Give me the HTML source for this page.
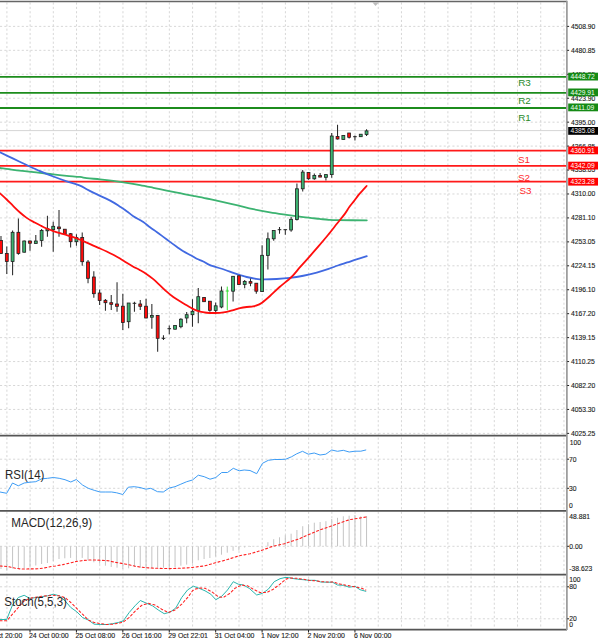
<!DOCTYPE html>
<html><head><meta charset="utf-8"><title>Chart</title>
<style>
html,body{margin:0;padding:0;background:#fff;width:600px;height:644px;overflow:hidden;}
svg{display:block;}
</style></head><body>
<svg width="600" height="644" viewBox="0 0 600 644">
<rect width="600" height="644" fill="#fff"/>
<path d="M6.90 2.5V434.8M30.11 2.5V434.8M53.32 2.5V434.8M76.53 2.5V434.8M99.74 2.5V434.8M122.95 2.5V434.8M146.16 2.5V434.8M169.37 2.5V434.8M192.58 2.5V434.8M215.79 2.5V434.8M239.00 2.5V434.8M262.21 2.5V434.8M285.42 2.5V434.8M308.63 2.5V434.8M331.84 2.5V434.8M355.05 2.5V434.8M378.26 2.5V434.8M401.47 2.5V434.8M424.68 2.5V434.8M447.89 2.5V434.8M471.10 2.5V434.8M494.31 2.5V434.8M517.52 2.5V434.8M540.73 2.5V434.8M563.94 2.5V434.8M6.90 437.6V509.6M30.11 437.6V509.6M53.32 437.6V509.6M76.53 437.6V509.6M99.74 437.6V509.6M122.95 437.6V509.6M146.16 437.6V509.6M169.37 437.6V509.6M192.58 437.6V509.6M215.79 437.6V509.6M239.00 437.6V509.6M262.21 437.6V509.6M285.42 437.6V509.6M308.63 437.6V509.6M331.84 437.6V509.6M355.05 437.6V509.6M378.26 437.6V509.6M401.47 437.6V509.6M424.68 437.6V509.6M447.89 437.6V509.6M471.10 437.6V509.6M494.31 437.6V509.6M517.52 437.6V509.6M540.73 437.6V509.6M563.94 437.6V509.6M6.90 511.8V573.6M30.11 511.8V573.6M53.32 511.8V573.6M76.53 511.8V573.6M99.74 511.8V573.6M122.95 511.8V573.6M146.16 511.8V573.6M169.37 511.8V573.6M192.58 511.8V573.6M215.79 511.8V573.6M239.00 511.8V573.6M262.21 511.8V573.6M285.42 511.8V573.6M308.63 511.8V573.6M331.84 511.8V573.6M355.05 511.8V573.6M378.26 511.8V573.6M401.47 511.8V573.6M424.68 511.8V573.6M447.89 511.8V573.6M471.10 511.8V573.6M494.31 511.8V573.6M517.52 511.8V573.6M540.73 511.8V573.6M563.94 511.8V573.6M6.90 576.6V628.3M30.11 576.6V628.3M53.32 576.6V628.3M76.53 576.6V628.3M99.74 576.6V628.3M122.95 576.6V628.3M146.16 576.6V628.3M169.37 576.6V628.3M192.58 576.6V628.3M215.79 576.6V628.3M239.00 576.6V628.3M262.21 576.6V628.3M285.42 576.6V628.3M308.63 576.6V628.3M331.84 576.6V628.3M355.05 576.6V628.3M378.26 576.6V628.3M401.47 576.6V628.3M424.68 576.6V628.3M447.89 576.6V628.3M471.10 576.6V628.3M494.31 576.6V628.3M517.52 576.6V628.3M540.73 576.6V628.3M563.94 576.6V628.3M0 26.40H567.0M0 50.34H567.0M0 74.28H567.0M0 98.22H567.0M0 122.16H567.0M0 146.10H567.0M0 170.04H567.0M0 193.98H567.0M0 217.92H567.0M0 241.86H567.0M0 265.80H567.0M0 289.74H567.0M0 313.68H567.0M0 337.62H567.0M0 361.56H567.0M0 385.50H567.0M0 409.44H567.0M0 433.38H567.0M0 459.20H567.0M0 488.30H567.0M0 546.30H567.0M0 586.80H567.0M0 618.80H567.0" stroke="#d2d2d2" stroke-width="0.9" stroke-dasharray="2.1,2.25" fill="none"/>
<path d="M0 130.6H567.0" stroke="#d6d6d6" stroke-width="1"/>
<path d="M0 76.8H567.0" stroke="#1c8c1c" stroke-width="1.8"/>
<path d="M0 92.8H567.0" stroke="#1c8c1c" stroke-width="1.8"/>
<path d="M0 108.0H567.0" stroke="#1c8c1c" stroke-width="1.8"/>
<path d="M0 150.6H567.0" stroke="#ff1a1a" stroke-width="1.8"/>
<path d="M0 165.9H567.0" stroke="#ff1a1a" stroke-width="1.8"/>
<path d="M0 181.7H567.0" stroke="#ff1a1a" stroke-width="1.8"/>
<path d="M0.00 168.00C2.22 168.30 8.85 169.27 13.30 169.82C17.75 170.38 22.25 170.82 26.70 171.32C31.15 171.83 35.57 172.33 40.00 172.85C44.43 173.37 48.85 173.96 53.30 174.45C57.75 174.94 62.25 175.38 66.70 175.80C71.15 176.22 76.67 176.59 80.00 176.97C83.33 177.36 83.37 177.71 86.70 178.10C90.03 178.49 95.57 178.87 100.00 179.32C104.43 179.78 108.85 180.28 113.30 180.85C117.75 181.43 122.25 182.07 126.70 182.77C131.15 183.48 135.57 184.27 140.00 185.10C144.43 185.93 148.85 186.86 153.30 187.77C157.75 188.69 162.25 189.69 166.70 190.60C171.15 191.51 175.57 192.36 180.00 193.22C184.43 194.09 188.85 194.92 193.30 195.80C197.75 196.68 202.25 197.56 206.70 198.50C211.15 199.44 215.00 200.31 220.00 201.43C225.00 202.54 231.15 203.88 236.70 205.18C242.25 206.48 247.75 208.02 253.30 209.22C258.85 210.43 264.43 211.48 270.00 212.43C275.57 213.37 281.15 214.10 286.70 214.88C292.25 215.65 297.87 216.41 303.30 217.07C308.73 217.74 315.08 218.41 319.30 218.88C323.52 219.34 325.50 219.63 328.60 219.85C331.70 220.07 331.53 220.12 337.90 220.20C344.27 220.27 361.98 220.28 366.80 220.30" stroke="#3cb371" stroke-width="1.8" fill="none" stroke-linecap="round" />
<path d="M0.00 152.30C2.22 153.36 8.85 156.56 13.30 158.68C17.75 160.79 22.25 162.93 26.70 165.00C31.15 167.07 35.57 169.16 40.00 171.07C44.43 172.99 48.85 174.79 53.30 176.50C57.75 178.21 62.25 179.80 66.70 181.32C71.15 182.85 76.67 184.32 80.00 185.65C83.33 186.98 84.48 188.15 86.70 189.32C88.92 190.50 91.08 191.59 93.30 192.68C95.52 193.76 97.77 194.82 100.00 195.85C102.23 196.88 104.48 197.77 106.70 198.85C108.92 199.93 111.08 201.05 113.30 202.35C115.52 203.65 117.77 205.21 120.00 206.68C122.23 208.14 124.48 209.57 126.70 211.15C128.92 212.73 130.53 214.34 133.30 216.15C136.07 217.96 140.52 220.14 143.30 222.00C146.08 223.86 147.77 225.66 150.00 227.32C152.23 228.99 154.48 230.41 156.70 232.00C158.92 233.59 161.08 235.21 163.30 236.85C165.52 238.49 167.77 240.21 170.00 241.85C172.23 243.49 174.48 245.10 176.70 246.68C178.92 248.25 180.87 249.85 183.30 251.32C185.73 252.80 189.07 254.28 191.30 255.50C193.53 256.73 194.70 257.68 196.70 258.68C198.70 259.68 201.08 260.42 203.30 261.50C205.52 262.58 206.55 263.84 210.00 265.18C213.45 266.51 220.12 268.21 224.00 269.50C227.88 270.79 230.63 271.98 233.30 272.90C235.97 273.82 237.77 274.32 240.00 275.00C242.23 275.68 244.03 276.36 246.70 277.00C249.37 277.64 253.23 278.43 256.00 278.83C258.77 279.23 259.85 279.37 263.30 279.40C266.75 279.43 272.25 279.27 276.70 279.02C281.15 278.78 285.57 278.50 290.00 277.95C294.43 277.40 298.85 276.65 303.30 275.75C307.75 274.85 312.48 273.67 316.70 272.52C320.92 271.38 325.07 270.02 328.60 268.85C332.13 267.67 334.80 266.54 337.90 265.48C341.00 264.41 344.10 263.49 347.20 262.48C350.30 261.46 353.23 260.45 356.50 259.40C359.77 258.35 365.08 256.73 366.80 256.20" stroke="#4169e1" stroke-width="1.8" fill="none" stroke-linecap="round" />
<path d="M0.99 236V253.4M6.79 246.6V274M12.59 230.4V275.2M18.39 218.4V254.7M24.20 240.5V252.5M30.00 240.4V250.7M35.80 235V243.5M41.61 229V246.7M47.41 215.8V236.7M53.21 221.7V251.7M59.01 210V236.7M64.81 229V235M70.62 233V247.5M76.42 234.2V245.8M82.22 232.5V265.8M88.03 260V283.3M93.83 271.3V297.8M99.63 289.5V305M105.43 299V310.8M111.23 295V310M117.04 282.2V311.7M122.84 293.7V330M128.64 303V328.3M134.44 301.7V311.7M140.25 300V310M146.05 298.7V318.3M151.85 304V328.7M157.66 315.3V351.7M163.46 335.3V340M169.26 325.5V334.2M175.06 325V329.5M180.87 318.3V328.3M186.67 312V323.3M192.47 299.2V326.7M198.27 288V323.3M204.08 297V301.7M209.88 301.2V311.7M215.68 302.5V314.2M221.48 286.6V308.3M233.09 276V301.5M238.89 275.5V284.7M244.69 280V288.2M250.50 278.5V286.2M256.30 282.9V293.7M262.10 245.2V292M267.90 232.5V269.4M273.71 230.5V240.8M279.51 227V233.7M285.31 229.7V234.7M291.11 217V231.7M296.92 183.5V220.6M302.72 170.1V191.6M308.52 172.4V179.8M314.32 173.4V179.8M320.12 173V177.1M325.93 174.6V180.4M331.73 133V177.7M337.53 124.7V139.5M343.34 135V139.5M349.14 133V138.6M354.94 135.5V140.4M360.74 134V137M366.55 129.3V136" stroke="#2a2a2a" stroke-width="1.05" fill="none"/>
<path d="M132.64 303.3H136.25M161.66 338.3H165.26M167.46 328.7H171.06M277.71 229.7H281.31M283.51 229.7H287.11M353.14 136.7H356.74" stroke="#222" stroke-width="1" fill="none"/>
<path d="M227.28 286.6V310.2M225.69 291H228.88" stroke="#22e022" stroke-width="0.9" fill="none"/>
<g fill="#3cb371" stroke="#1e1e1e" stroke-width="0.8"><rect x="11.14" y="232.30" width="2.9" height="29.20"/><rect x="22.75" y="241.00" width="2.9" height="11.20"/><rect x="34.35" y="241.00" width="2.9" height="2.50"/><rect x="40.16" y="230.50" width="2.9" height="10.00"/><rect x="45.96" y="228.80" width="2.9" height="2.00"/><rect x="51.76" y="226.30" width="2.9" height="3.40"/><rect x="74.97" y="237.50" width="2.9" height="4.20"/><rect x="127.19" y="303.00" width="2.9" height="18.70"/><rect x="150.40" y="315.50" width="2.9" height="1.70"/><rect x="173.61" y="325.50" width="2.9" height="3.70"/><rect x="179.42" y="319.20" width="2.9" height="7.50"/><rect x="185.22" y="314.70" width="2.9" height="3.30"/><rect x="191.02" y="311.30" width="2.9" height="3.40"/><rect x="196.82" y="296.70" width="2.9" height="13.80"/><rect x="214.23" y="305.80" width="2.9" height="4.70"/><rect x="220.03" y="291.00" width="2.9" height="16.00"/><rect x="231.64" y="276.30" width="2.9" height="14.90"/><rect x="243.24" y="281.40" width="2.9" height="3.10"/><rect x="260.65" y="255.30" width="2.9" height="36.30"/><rect x="266.45" y="238.80" width="2.9" height="16.70"/><rect x="272.26" y="230.50" width="2.9" height="8.30"/><rect x="289.66" y="219.30" width="2.9" height="10.70"/><rect x="295.47" y="188.80" width="2.9" height="30.70"/><rect x="301.27" y="172.10" width="2.9" height="16.70"/><rect x="312.87" y="175.50" width="2.9" height="3.30"/><rect x="324.48" y="174.60" width="2.9" height="2.70"/><rect x="330.28" y="136.00" width="2.9" height="38.60"/><rect x="341.89" y="135.50" width="2.9" height="3.90"/><rect x="359.29" y="134.20" width="2.9" height="2.50"/><rect x="365.10" y="130.90" width="2.9" height="3.70"/></g>
<g fill="#ff0a0a" stroke="#1e1e1e" stroke-width="0.8"><rect x="-0.46" y="240.40" width="2.9" height="13.00"/><rect x="5.34" y="253.40" width="2.9" height="8.10"/><rect x="16.95" y="232.30" width="2.9" height="21.10"/><rect x="28.55" y="241.00" width="2.9" height="2.20"/><rect x="57.56" y="227.00" width="2.9" height="1.70"/><rect x="63.36" y="229.20" width="2.9" height="5.00"/><rect x="69.17" y="233.70" width="2.9" height="8.00"/><rect x="80.77" y="237.50" width="2.9" height="24.20"/><rect x="86.58" y="262.00" width="2.9" height="16.30"/><rect x="92.38" y="277.00" width="2.9" height="16.70"/><rect x="98.18" y="293.00" width="2.9" height="7.50"/><rect x="103.98" y="300.30" width="2.9" height="2.40"/><rect x="109.78" y="302.70" width="2.9" height="1.60"/><rect x="115.59" y="304.00" width="2.9" height="2.30"/><rect x="121.39" y="306.20" width="2.9" height="16.30"/><rect x="138.80" y="304.00" width="2.9" height="2.30"/><rect x="144.60" y="306.20" width="2.9" height="11.80"/><rect x="156.21" y="315.50" width="2.9" height="22.80"/><rect x="202.63" y="297.50" width="2.9" height="4.20"/><rect x="208.43" y="301.20" width="2.9" height="9.10"/><rect x="237.44" y="275.80" width="2.9" height="8.70"/><rect x="249.05" y="281.60" width="2.9" height="1.60"/><rect x="254.85" y="283.20" width="2.9" height="8.00"/><rect x="307.07" y="172.40" width="2.9" height="6.40"/><rect x="318.68" y="175.50" width="2.9" height="1.60"/><rect x="336.08" y="136.50" width="2.9" height="2.50"/><rect x="347.69" y="133.00" width="2.9" height="4.30"/></g>
<path d="M0.00 193.30C1.12 194.33 4.48 197.34 6.70 199.48C8.92 201.61 11.08 203.96 13.30 206.12C15.52 208.29 17.77 210.52 20.00 212.47C22.23 214.43 24.25 216.20 26.70 217.88C29.15 219.55 32.27 221.19 34.70 222.53C37.13 223.86 39.30 224.91 41.30 225.90C43.30 226.89 44.70 227.62 46.70 228.48C48.70 229.33 51.08 230.26 53.30 231.05C55.52 231.84 57.77 232.55 60.00 233.23C62.23 233.90 64.48 234.42 66.70 235.07C68.92 235.73 71.08 236.39 73.30 237.18C75.52 237.96 77.77 238.86 80.00 239.77C82.23 240.69 84.48 241.70 86.70 242.67C88.92 243.65 91.08 244.63 93.30 245.60C95.52 246.57 97.77 247.49 100.00 248.48C102.23 249.46 104.48 250.47 106.70 251.53C108.92 252.58 111.08 253.65 113.30 254.82C115.52 256.00 117.77 257.24 120.00 258.57C122.23 259.91 124.48 261.47 126.70 262.82C128.92 264.18 131.08 265.45 133.30 266.68C135.52 267.90 137.77 268.93 140.00 270.18C142.23 271.43 144.48 272.68 146.70 274.18C148.92 275.68 151.08 277.32 153.30 279.18C155.52 281.03 157.77 283.25 160.00 285.32C162.23 287.40 164.48 289.70 166.70 291.65C168.92 293.60 171.08 295.41 173.30 297.02C175.52 298.64 177.77 299.95 180.00 301.32C182.23 302.70 184.48 304.00 186.70 305.30C188.92 306.60 191.08 308.04 193.30 309.10C195.52 310.16 197.77 311.07 200.00 311.68C202.23 312.28 204.48 312.53 206.70 312.75C208.92 312.97 211.08 312.98 213.30 313.00C215.52 313.02 217.77 313.03 220.00 312.85C222.23 312.68 224.48 312.41 226.70 311.95C228.92 311.49 231.08 310.73 233.30 310.10C235.52 309.47 237.77 308.69 240.00 308.18C242.23 307.66 244.70 307.27 246.70 307.00C248.70 306.73 250.45 306.77 252.00 306.55C253.55 306.33 254.33 306.35 256.00 305.70C257.67 305.05 259.72 304.22 262.00 302.65C264.28 301.07 266.77 298.86 269.70 296.25C272.63 293.64 275.97 290.21 279.60 287.00C283.23 283.79 288.10 280.30 291.50 277.00C294.90 273.70 297.03 270.54 300.00 267.18C302.97 263.81 306.20 260.32 309.30 256.82C312.40 253.33 315.48 249.83 318.60 246.20C321.72 242.57 324.88 238.85 328.00 235.03C331.12 231.20 334.47 226.84 337.30 223.27C340.13 219.71 343.00 216.33 345.00 213.62C347.00 210.92 347.80 209.11 349.30 207.03C350.80 204.94 352.45 203.12 354.00 201.10C355.55 199.08 357.05 196.82 358.60 194.92C360.15 193.03 361.97 191.21 363.30 189.72C364.63 188.24 366.05 186.62 366.60 186.00" stroke="#ff0d0d" stroke-width="1.8" fill="none" stroke-linecap="round" />
<text x="518.2" y="86.4" font-size="9.9" fill="#2a8a2a" font-family="Liberation Sans, sans-serif">R3</text>
<text x="518.2" y="104.2" font-size="9.9" fill="#2a8a2a" font-family="Liberation Sans, sans-serif">R2</text>
<text x="518.2" y="121.0" font-size="9.9" fill="#2a8a2a" font-family="Liberation Sans, sans-serif">R1</text>
<text x="518" y="163" font-size="9.9" fill="#ff2a2a" font-family="Liberation Sans, sans-serif">S1</text>
<text x="518" y="181" font-size="9.9" fill="#ff2a2a" font-family="Liberation Sans, sans-serif">S2</text>
<text x="519.5" y="193.5" font-size="9.9" fill="#ff2a2a" font-family="Liberation Sans, sans-serif">S3</text>
<path d="M0.0 492.0 L6.7 493.3 L12.5 483.0 L18.3 485.8 L24.2 483.0 L30.0 482.2 L35.8 481.7 L41.7 478.8 L47.5 478.3 L53.3 477.5 L59.2 478.3 L65.0 479.7 L70.8 482.0 L76.3 479.5 L82.5 485.0 L88.3 488.3 L94.2 490.3 L100.0 492.0 L105.8 492.0 L111.7 492.0 L116.7 492.8 L122.8 494.5 L128.3 487.2 L134.2 486.7 L140.0 487.5 L145.8 489.2 L150.8 488.3 L157.5 491.7 L163.3 492.0 L169.2 488.0 L175.0 486.7 L180.8 484.2 L186.7 481.7 L192.5 480.0 L198.3 475.2 L204.2 476.7 L210.0 479.2 L215.8 477.5 L221.7 472.5 L227.5 472.5 L233.3 468.3 L239.2 470.8 L244.2 470.0 L250.0 470.5 L256.7 473.7 L262.5 463.3 L268.3 460.3 L274.2 459.5 L280.0 459.5 L285.8 459.2 L291.7 456.7 L296.7 453.8 L302.5 451.3 L308.3 454.2 L314.2 453.0 L320.0 455.0 L325.8 454.2 L331.7 450.0 L337.5 451.3 L343.3 450.3 L349.2 452.0 L355.0 451.2 L360.8 451.2 L365.8 450.0" stroke="#3d9cf5" stroke-width="1.0" fill="none" stroke-linejoin="round" stroke-linecap="round" />
<path d="M0.99 546.3V569M6.79 546.3V570.5M12.59 546.3V568.5M18.39 546.3V568.5M24.20 546.3V568.5M30.00 546.3V567.5M35.80 546.3V565.5M41.61 546.3V564M47.41 546.3V563M53.21 546.3V561M59.01 546.3V559M64.81 546.3V558.3M70.62 546.3V557.9M76.42 546.3V560.3M82.22 546.3V557.9M88.03 546.3V560.3M93.83 546.3V562.3M99.63 546.3V563.7M105.43 546.3V565.7M111.23 546.3V567M117.04 546.3V567.7M122.84 546.3V569M128.64 546.3V568.3M134.44 546.3V567M140.25 546.3V567.7M146.05 546.3V568.3M151.85 546.3V568.3M157.66 546.3V567.7M163.46 546.3V567.7M169.26 546.3V569M175.06 546.3V567M180.87 546.3V565.7M186.67 546.3V564.6M192.47 546.3V563.7M198.27 546.3V560.3M204.08 546.3V559M209.88 546.3V558M215.68 546.3V556.5M221.48 546.3V554.7M227.28 546.3V552.7M233.09 546.3V550.8M238.89 546.3V550.5M244.69 546.3V547.5M250.50 546.3V546.9M256.30 546.3V546.5M262.10 546.3V546.5M267.90 546.3V542.2M273.71 546.3V539.2M279.51 546.3V537.3M285.31 546.3V535.2M291.11 546.3V533.7M296.92 546.3V530M302.72 546.3V526.2M308.52 546.3V524.2M314.32 546.3V522.7M320.12 546.3V522M325.93 546.3V521.2M331.73 546.3V519M337.53 546.3V517.8M343.34 546.3V516.3M349.14 546.3V515.7M354.94 546.3V515M360.74 546.3V516.3M366.55 546.3V516" stroke="#c4c4c4" stroke-width="1" fill="none"/>
<path d="M0.0 566.0 L7.5 566.5 L12.0 567.5 L16.0 568.3 L20.5 569.0 L38.0 568.8 L42.5 568.3 L46.5 567.5 L51.0 566.5 L55.5 566.0 L63.0 564.6 L68.3 563.4 L75.0 561.7 L81.7 560.7 L88.3 560.0 L95.0 560.0 L101.7 560.3 L108.3 560.7 L115.0 562.3 L121.7 563.4 L128.3 564.6 L135.3 566.3 L143.3 567.4 L150.0 568.0 L156.7 568.3 L170.0 568.6 L176.7 568.3 L186.0 568.0 L192.7 567.4 L199.3 566.5 L205.0 565.8 L215.5 562.8 L227.5 559.5 L239.5 555.7 L250.0 553.8 L262.0 550.2 L272.5 546.4 L284.5 543.7 L291.0 541.5 L300.0 538.5 L309.0 534.4 L321.0 529.5 L330.0 526.5 L339.0 523.2 L349.5 519.7 L357.0 518.5 L366.0 517.0" stroke="#ff2020" stroke-width="1.1" fill="none" stroke-linejoin="round" stroke-linecap="round" stroke-dasharray="2.1,2.4" stroke-linecap="butt"/>
<path d="M0.0 619.5 L6.7 619.5 L12.5 605.0 L18.3 597.5 L24.2 595.3 L30.0 598.5 L35.8 597.5 L41.7 596.7 L47.5 595.8 L53.3 594.2 L59.2 595.8 L65.0 600.8 L70.8 607.5 L76.7 611.7 L82.5 617.5 L88.3 620.0 L94.2 624.2 L100.8 624.5 L106.7 624.5 L112.5 623.7 L118.3 622.5 L123.3 620.8 L129.2 612.5 L135.0 605.8 L140.3 600.5 L146.7 603.3 L152.5 605.8 L158.3 610.0 L164.2 613.7 L170.0 612.2 L175.8 608.0 L181.7 597.5 L187.5 590.0 L193.3 586.2 L199.2 588.3 L205.0 590.8 L210.8 594.2 L215.8 599.7 L221.7 596.3 L227.5 590.0 L233.3 581.7 L238.3 584.2 L243.3 585.0 L249.2 588.3 L256.7 595.0 L262.5 593.3 L268.3 589.2 L274.2 581.7 L280.0 578.7 L285.0 577.5 L288.3 577.5 L291.7 578.3 L297.5 579.2 L303.3 579.7 L309.2 580.3 L315.0 580.3 L320.8 582.0 L326.7 582.2 L332.5 582.2 L337.5 585.0 L343.3 585.3 L349.2 587.2 L355.0 586.3 L360.0 589.7 L365.8 591.3" stroke="#2ab5ad" stroke-width="1.0" fill="none" stroke-linejoin="round" stroke-linecap="round" />
<path d="M0.0 620.8 L6.7 620.8 L12.5 614.2 L18.3 607.5 L24.2 600.8 L30.0 598.3 L35.8 597.2 L41.7 596.2 L47.5 595.8 L53.3 595.3 L59.2 595.8 L65.0 597.5 L70.8 602.5 L76.7 608.3 L82.5 614.2 L88.3 620.0 L94.2 622.5 L100.8 623.7 L106.7 624.5 L112.5 624.2 L118.3 623.3 L123.3 622.0 L129.2 617.5 L135.0 611.3 L141.7 605.3 L148.3 603.3 L155.0 605.0 L161.7 609.2 L168.3 612.5 L175.0 610.0 L181.7 604.2 L188.3 596.7 L192.5 590.8 L195.0 589.2 L200.0 588.0 L205.0 588.3 L211.7 591.7 L218.3 596.7 L223.3 597.5 L230.0 593.3 L235.0 588.3 L241.7 585.0 L247.5 585.8 L253.3 589.2 L260.0 592.5 L266.7 592.5 L273.3 589.2 L280.0 584.2 L285.8 579.2 L290.0 578.0 L296.7 578.3 L303.3 579.2 L309.2 580.3 L315.0 580.8 L321.7 581.7 L328.3 582.0 L333.3 582.0 L338.3 583.7 L345.0 585.0 L351.7 586.3 L356.7 587.2 L361.7 588.3 L365.8 590.0" stroke="#ff2020" stroke-width="1.05" fill="none" stroke-linejoin="round" stroke-linecap="round" stroke-dasharray="2.1,2.4" stroke-linecap="butt"/>
<text x="5.0" y="479.4" font-size="12" textLength="39.4" lengthAdjust="spacingAndGlyphs" fill="#262626" font-family="Liberation Sans, sans-serif">RSI(14)</text>
<text x="11.2" y="527.4" font-size="12" textLength="81" lengthAdjust="spacingAndGlyphs" fill="#262626" font-family="Liberation Sans, sans-serif">MACD(12,26,9)</text>
<text x="4.3" y="605.7" font-size="12" textLength="62.6" lengthAdjust="spacingAndGlyphs" fill="#262626" font-family="Liberation Sans, sans-serif">Stoch(5,5,3)</text>
<path d="M0 1.6H567.0" stroke="#666" stroke-width="1.5"/>
<path d="M0 435.6H567.0" stroke="#555" stroke-width="1.7"/>
<path d="M0 510.9H567.0" stroke="#555" stroke-width="1.7"/>
<path d="M0 574.7H567.0" stroke="#555" stroke-width="1.7"/>
<path d="M0 629.6H567.0" stroke="#555" stroke-width="1.7"/>
<path d="M566.9 0.8V630" stroke="#9a9a9a" stroke-width="1.7"/>
<path d="M372.3 2.3H379L375.5 6Z" fill="#bdbdbd"/>
<text x="570.9" y="28.80" font-family="Liberation Sans, sans-serif" font-size="6.75" fill="#1a1a1a" stroke="#1a1a1a" stroke-width="0.12">4508.90</text>
<text x="570.9" y="52.74" font-family="Liberation Sans, sans-serif" font-size="6.75" fill="#1a1a1a" stroke="#1a1a1a" stroke-width="0.12">4480.85</text>
<text x="570.9" y="76.68" font-family="Liberation Sans, sans-serif" font-size="6.75" fill="#1a1a1a" stroke="#1a1a1a" stroke-width="0.12">4451.95</text>
<text x="570.9" y="100.62" font-family="Liberation Sans, sans-serif" font-size="6.75" fill="#1a1a1a" stroke="#1a1a1a" stroke-width="0.12">4423.90</text>
<text x="570.9" y="124.56" font-family="Liberation Sans, sans-serif" font-size="6.75" fill="#1a1a1a" stroke="#1a1a1a" stroke-width="0.12">4395.00</text>
<text x="570.9" y="148.50" font-family="Liberation Sans, sans-serif" font-size="6.75" fill="#1a1a1a" stroke="#1a1a1a" stroke-width="0.12">4366.85</text>
<text x="570.9" y="172.44" font-family="Liberation Sans, sans-serif" font-size="6.75" fill="#1a1a1a" stroke="#1a1a1a" stroke-width="0.12">4338.05</text>
<text x="570.9" y="196.38" font-family="Liberation Sans, sans-serif" font-size="6.75" fill="#1a1a1a" stroke="#1a1a1a" stroke-width="0.12">4310.00</text>
<text x="570.9" y="220.32" font-family="Liberation Sans, sans-serif" font-size="6.75" fill="#1a1a1a" stroke="#1a1a1a" stroke-width="0.12">4281.10</text>
<text x="570.9" y="244.26" font-family="Liberation Sans, sans-serif" font-size="6.75" fill="#1a1a1a" stroke="#1a1a1a" stroke-width="0.12">4253.05</text>
<text x="570.9" y="268.20" font-family="Liberation Sans, sans-serif" font-size="6.75" fill="#1a1a1a" stroke="#1a1a1a" stroke-width="0.12">4224.15</text>
<text x="570.9" y="292.14" font-family="Liberation Sans, sans-serif" font-size="6.75" fill="#1a1a1a" stroke="#1a1a1a" stroke-width="0.12">4196.10</text>
<text x="570.9" y="316.08" font-family="Liberation Sans, sans-serif" font-size="6.75" fill="#1a1a1a" stroke="#1a1a1a" stroke-width="0.12">4167.20</text>
<text x="570.9" y="340.02" font-family="Liberation Sans, sans-serif" font-size="6.75" fill="#1a1a1a" stroke="#1a1a1a" stroke-width="0.12">4139.15</text>
<text x="570.9" y="363.96" font-family="Liberation Sans, sans-serif" font-size="6.75" fill="#1a1a1a" stroke="#1a1a1a" stroke-width="0.12">4110.25</text>
<text x="570.9" y="387.90" font-family="Liberation Sans, sans-serif" font-size="6.75" fill="#1a1a1a" stroke="#1a1a1a" stroke-width="0.12">4082.20</text>
<text x="570.9" y="411.84" font-family="Liberation Sans, sans-serif" font-size="6.75" fill="#1a1a1a" stroke="#1a1a1a" stroke-width="0.12">4053.30</text>
<text x="570.9" y="435.78" font-family="Liberation Sans, sans-serif" font-size="6.75" fill="#1a1a1a" stroke="#1a1a1a" stroke-width="0.12">4025.25</text>
<path d="M567.2 26.40h1.9M567.2 50.34h1.9M567.2 74.28h1.9M567.2 98.22h1.9M567.2 122.16h1.9M567.2 146.10h1.9M567.2 170.04h1.9M567.2 193.98h1.9M567.2 217.92h1.9M567.2 241.86h1.9M567.2 265.80h1.9M567.2 289.74h1.9M567.2 313.68h1.9M567.2 337.62h1.9M567.2 361.56h1.9M567.2 385.50h1.9M567.2 409.44h1.9M567.2 433.38h1.9" stroke="#222" stroke-width="1"/>
<rect x="568.2" y="72.70" width="29.8" height="7.8" fill="#158a15"/>
<text x="570.6" y="79.00" font-family="Liberation Sans, sans-serif" font-size="6.7" fill="#f4fff4">4448.72</text>
<rect x="568.2" y="88.50" width="29.8" height="7.8" fill="#158a15"/>
<text x="570.6" y="94.80" font-family="Liberation Sans, sans-serif" font-size="6.7" fill="#f4fff4">4429.91</text>
<rect x="568.2" y="103.50" width="29.8" height="7.8" fill="#158a15"/>
<text x="570.6" y="109.80" font-family="Liberation Sans, sans-serif" font-size="6.7" fill="#f4fff4">4411.09</text>
<rect x="568.2" y="127.00" width="29.8" height="7.8" fill="#000"/>
<text x="570.6" y="133.30" font-family="Liberation Sans, sans-serif" font-size="6.7" fill="#f0f0f0">4385.08</text>
<rect x="568.2" y="146.50" width="29.8" height="7.8" fill="#ff0000"/>
<text x="570.6" y="152.80" font-family="Liberation Sans, sans-serif" font-size="6.7" fill="#fff">4360.91</text>
<rect x="568.2" y="161.70" width="29.8" height="7.8" fill="#ff0000"/>
<text x="570.6" y="168.00" font-family="Liberation Sans, sans-serif" font-size="6.7" fill="#fff">4342.09</text>
<rect x="568.2" y="177.80" width="29.8" height="7.8" fill="#ff0000"/>
<text x="570.6" y="184.10" font-family="Liberation Sans, sans-serif" font-size="6.7" fill="#fff">4323.28</text>
<text x="569.7" y="444.8" font-family="Liberation Sans, sans-serif" font-size="6.75" fill="#1a1a1a" stroke="#1a1a1a" stroke-width="0.12">100</text>
<text x="568.9" y="461.8" font-family="Liberation Sans, sans-serif" font-size="6.75" fill="#1a1a1a" stroke="#1a1a1a" stroke-width="0.12">70</text>
<text x="568.9" y="490.6" font-family="Liberation Sans, sans-serif" font-size="6.75" fill="#1a1a1a" stroke="#1a1a1a" stroke-width="0.12">30</text>
<text x="568.9" y="507.6" font-family="Liberation Sans, sans-serif" font-size="6.75" fill="#1a1a1a" stroke="#1a1a1a" stroke-width="0.12">0</text>
<text x="569.3" y="519.2" font-family="Liberation Sans, sans-serif" font-size="6.75" fill="#1a1a1a" stroke="#1a1a1a" stroke-width="0.12">48.881</text>
<text x="569.3" y="548.6" font-family="Liberation Sans, sans-serif" font-size="6.75" fill="#1a1a1a" stroke="#1a1a1a" stroke-width="0.12">0.00</text>
<text x="569.3" y="571.2" font-family="Liberation Sans, sans-serif" font-size="6.75" fill="#1a1a1a" stroke="#1a1a1a" stroke-width="0.12">-38.623</text>
<text x="569.3" y="582.3" font-family="Liberation Sans, sans-serif" font-size="6.75" fill="#1a1a1a" stroke="#1a1a1a" stroke-width="0.12">100</text>
<text x="569.3" y="589.1" font-family="Liberation Sans, sans-serif" font-size="6.75" fill="#1a1a1a" stroke="#1a1a1a" stroke-width="0.12">80</text>
<text x="569.3" y="620.5" font-family="Liberation Sans, sans-serif" font-size="6.75" fill="#1a1a1a" stroke="#1a1a1a" stroke-width="0.12">20</text>
<text x="569.3" y="626.6" font-family="Liberation Sans, sans-serif" font-size="6.75" fill="#1a1a1a" stroke="#1a1a1a" stroke-width="0.12">0</text>
<path d="M567.2 459.2h1.9M567.2 488.3h1.9M567.2 546.3h1.9M567.2 586.8h1.9M567.2 618.8h1.9" stroke="#222" stroke-width="1"/>
<text x="-17.42" y="638.4" font-family="Liberation Sans, sans-serif" font-size="6.95" fill="#1a1a1a" stroke="#1a1a1a" stroke-width="0.12">23 Oct 20:00</text>
<text x="29.00" y="638.4" font-family="Liberation Sans, sans-serif" font-size="6.95" fill="#1a1a1a" stroke="#1a1a1a" stroke-width="0.12">24 Oct 00:00</text>
<text x="75.42" y="638.4" font-family="Liberation Sans, sans-serif" font-size="6.95" fill="#1a1a1a" stroke="#1a1a1a" stroke-width="0.12">25 Oct 08:00</text>
<text x="121.84" y="638.4" font-family="Liberation Sans, sans-serif" font-size="6.95" fill="#1a1a1a" stroke="#1a1a1a" stroke-width="0.12">26 Oct 16:00</text>
<text x="168.26" y="638.4" font-family="Liberation Sans, sans-serif" font-size="6.95" fill="#1a1a1a" stroke="#1a1a1a" stroke-width="0.12">29 Oct 22:01</text>
<text x="214.68" y="638.4" font-family="Liberation Sans, sans-serif" font-size="6.95" fill="#1a1a1a" stroke="#1a1a1a" stroke-width="0.12">31 Oct 04:00</text>
<text x="261.10" y="638.4" font-family="Liberation Sans, sans-serif" font-size="6.95" fill="#1a1a1a" stroke="#1a1a1a" stroke-width="0.12">1 Nov 12:00</text>
<text x="307.52" y="638.4" font-family="Liberation Sans, sans-serif" font-size="6.95" fill="#1a1a1a" stroke="#1a1a1a" stroke-width="0.12">2 Nov 20:00</text>
<text x="353.94" y="638.4" font-family="Liberation Sans, sans-serif" font-size="6.95" fill="#1a1a1a" stroke="#1a1a1a" stroke-width="0.12">6 Nov 00:00</text>
<path d="M-16.42 630V632.5M30.00 630V632.5M76.42 630V632.5M122.84 630V632.5M169.26 630V632.5M215.68 630V632.5M262.10 630V632.5M308.52 630V632.5M354.94 630V632.5" stroke="#222" stroke-width="1"/>
</svg>
</body></html>
